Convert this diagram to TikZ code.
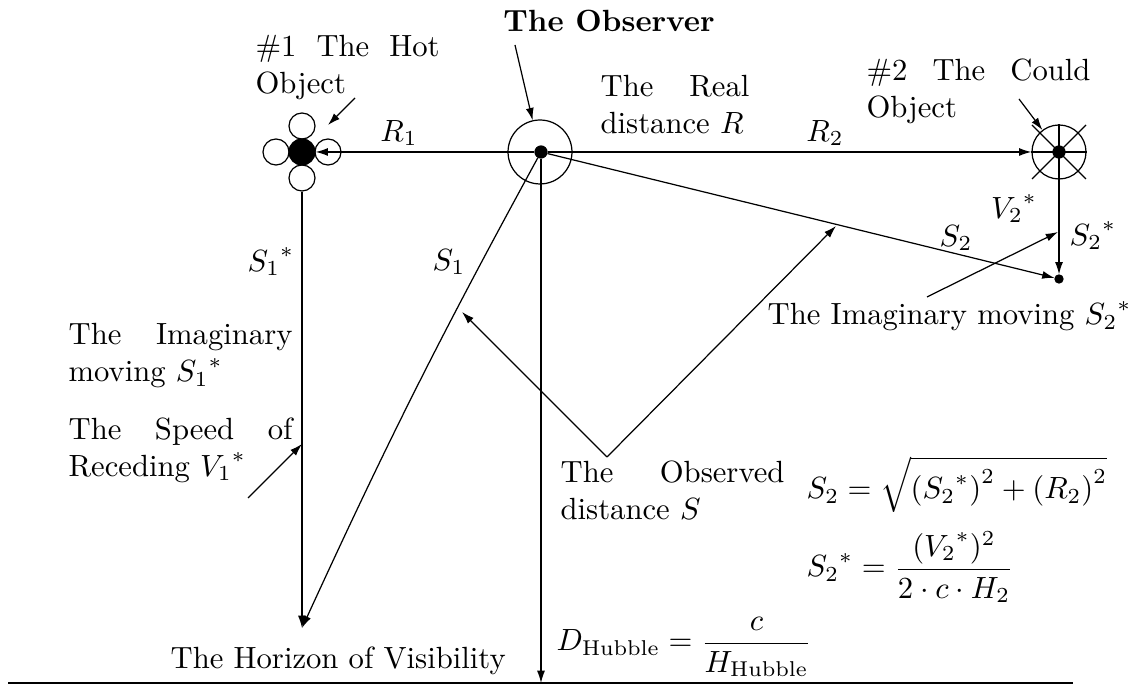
\documentclass[tikz,border=0pt]{standalone}
\usetikzlibrary{arrows.meta}
\hyphenpenalty=10000
\tolerance=9999
\begin{document}
\begin{tikzpicture}[x=0.01146cm, y=-0.01146cm,
    arr/.style={-{Latex[length=4pt,width=2.6pt]}},
    ring/.style={circle, draw, inner sep=0pt, minimum size=#1},
    blob/.style={circle, draw, fill, inner sep=0pt, minimum size=#1},
    txt/.style={text width=#1, align=justify, inner sep=0pt, anchor=north west},
    eq/.style={inner sep=0pt, anchor=base west}]

\useasboundingbox (0,0) rectangle (1138,684);

% ===== Objects =====
\node[blob=0.298cm] (hot) at (302,152) {};
\node[ring=0.298cm] (hotN) at (302,126) {};
\node[ring=0.298cm] (hotW) at (276,152) {};
\node[ring=0.298cm] (hotE) at (328,152) {};
\node[ring=0.298cm] (hotS) at (302,178) {};

\node[ring=0.733cm] (obs) at (540,152) {};
\node[blob=0.1375cm] (obsdot) at (541,152) {};

\node[ring=0.619cm] (cold) at (1059,152) {};
\node[blob=0.1375cm] (colddot) at (1059,152) {};
\node[blob=0.092cm] (s2end) at (1059,279) {};

\coordinate (horizon) at (302,628);
\coordinate (hubble) at (541,683);
\coordinate (groundL) at (8,683);
\coordinate (groundR) at (1073,683);

% ===== Distances =====
\draw[arr] (obsdot) -- (hot);
\draw[arr] (obsdot) -- (cold);
\draw (cold.west) -- (cold.east);
\draw ([shift={(-27,-27)}]cold.center) -- ([shift={(27,27)}]cold.center);
\draw ([shift={(27,-27)}]cold.center) -- ([shift={(-27,27)}]cold.center);
\draw[arr] (cold.north) -- (s2end);
\draw[arr] (hotS) -- (horizon);
\draw[arr] (obsdot) to[bend right=2] (horizon);
\draw[arr] (obsdot) -- (s2end);
\draw[arr] (obsdot) -- (hubble);
\draw (groundL) -- (groundR);

% ===== Pointers =====
\coordinate (obsTail) at (515,45);
\coordinate (hotTail) at (355,98);
\coordinate (hotHead) at (328,125);
\coordinate (coldTail) at (1019,99);
\coordinate (imagTail) at (927,297);
\coordinate (imagHead) at (1058,232);
\coordinate (speedTail) at (248,498);
\coordinate (speedHead) at (302,444);
\coordinate (seenV) at (607,457);
\coordinate (hitS1) at (462,312);
\coordinate (hitS2) at (836,226);

\draw[arr] (obsTail) -- (obs);
\draw[arr] (hotTail) -- (hotHead);
\draw[arr] (coldTail) -- (cold);
\draw[arr] (imagTail) -- (imagHead);
\draw[arr] (speedTail) -- (speedHead);
\draw[arr] (seenV) -- (hitS1);
\draw[arr] (seenV) -- (hitS2);

% ===== Labels =====
\node[font=\bfseries, anchor=base] (observerLbl) at (609,32) {The Observer};
\node[txt=60pt] (hotLbl) at (255,35) {\#1 The Hot Object};
\node[txt=48.5pt] (realLbl) at (600,75) {The Real distance $R$};
\node[txt=73pt] (coldLbl) at (866,58) {\#2 The Could Object};
\node[txt=73pt] (imagLbl) at (68,323) {The Imaginary moving ${S_1}^*$};
\node[txt=73pt] (speedLbl) at (68,417) {The Speed of Receding ${V_1}^*$};
\node[txt=73pt] (seenLbl) at (560,460) {The Observed distance $S$};
\node[inner sep=0pt, anchor=base west] (horizonLbl) at (170,669) {The Horizon of Visibility};
\node[inner sep=0pt, anchor=base east] (imagTwoLbl) at (1132,325) {The Imaginary moving ${S_2}^*$};

\node (R1) at (399,133) {$R_1$};
\node (R2) at (825,133) {$R_2$};
\node (S1star) at (271,262) {${S_1}^*$};
\node (S1) at (449,262) {$S_1$};
\node (V2star) at (1014,209) {${V_2}^*$};
\node (S2) at (956,238) {$S_2$};
\node (S2star) at (1093,236) {${S_2}^*$};

% ===== Formulas =====
\node[eq] (hubbleEq) at (556,651) {$\displaystyle D_{\mathrm{Hubble}}=\frac{c}{H_{\mathrm{Hubble}}}$};
\node[eq] (sTwoEq) at (806,499) {$\displaystyle S_2=\sqrt{\rule[-3pt]{0pt}{13pt}{({S_2}^*)}^{2}+{(R_2)}^{2}}$};
\node[eq] (sTwoStarEq) at (806,577) {$\displaystyle {S_2}^*=\frac{({V_2}^*)^2}{2\cdot c\cdot H_2}$};

\end{tikzpicture}
\end{document}
